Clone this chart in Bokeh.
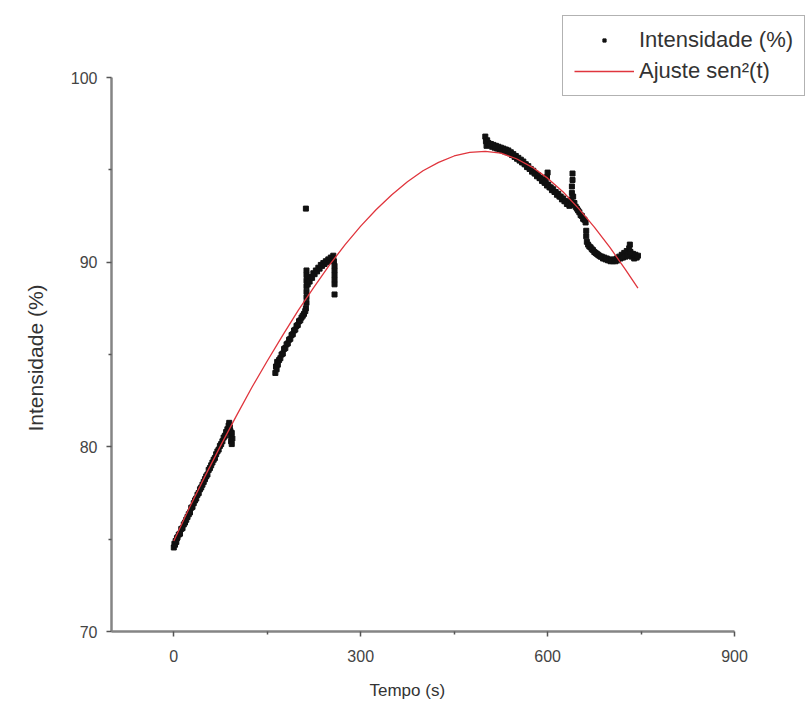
from bokeh.plotting import figure
from bokeh.models import Range1d, FixedTicker, Legend, LegendItem, ColumnDataSource, Title
from bokeh.embed import file_html
from bokeh.resources import INLINE

# ---- data ----
seg1_t = [0, 1, 2, 3, 4, 5, 6, 8, 10, 12, 14, 16, 18, 20, 22, 24, 26, 28, 30, 32, 34, 36, 38, 40,
          42, 44, 46, 48, 50, 52, 54, 56, 58, 60, 62, 64, 66, 68, 70, 72, 74, 76, 78, 80, 82, 84,
          86, 88, 89, 90, 91, 92, 92, 93, 93, 94]
seg1_i = [74.55, 74.75, 74.70, 74.90, 74.85, 75.05, 75.10, 75.25, 75.30, 75.55, 75.60, 75.80, 75.90,
          76.05, 76.20, 76.35, 76.45, 76.70, 76.75, 76.95, 77.10, 77.20, 77.40, 77.50, 77.70, 77.80,
          77.95, 78.10, 78.25, 78.40, 78.50, 78.75, 78.85, 79.00, 79.15, 79.30, 79.40, 79.60, 79.75,
          79.85, 80.05, 80.15, 80.30, 80.50, 80.60, 80.80, 80.95, 81.15, 81.30, 81.05, 80.85, 80.60,
          80.30, 80.15, 80.75, 80.45]

seg2_t = [163, 164, 165, 166, 167, 169, 171, 173, 175, 177, 179, 181, 183, 185, 187, 189, 191, 193,
          195, 197, 199, 201, 203, 205, 207, 209, 211, 212, 213, 213, 213, 213, 213, 213, 213, 212,
          215, 216, 218, 220, 222, 224, 226, 228, 230, 232, 234, 236, 238, 240, 242, 244, 246, 248,
          250, 252, 254, 256, 257, 258, 258, 258, 258, 258, 258]
seg2_i = [84.00, 84.35, 84.20, 84.60, 84.45, 84.70, 84.80, 85.00, 85.05, 85.30, 85.35, 85.55, 85.60,
          85.80, 85.85, 86.05, 86.10, 86.30, 86.35, 86.55, 86.60, 86.80, 86.85, 87.00, 87.10, 87.20,
          87.35, 87.50, 87.80, 88.10, 88.40, 88.70, 89.00, 89.30, 89.55, 92.90,
          88.80, 89.05, 88.95, 89.20, 89.15, 89.40, 89.35, 89.55, 89.50, 89.70, 89.65, 89.85, 89.80,
          89.95, 89.90, 90.05, 90.00, 90.15, 90.10, 90.25, 90.20, 90.35, 90.05, 89.80, 89.55, 89.30,
          89.05, 88.80, 88.25]

seg3_t = [500, 501, 502, 503, 505, 507, 509, 511, 513, 515, 517, 519, 521, 523, 525, 527, 529, 531,
          533, 535, 537, 539, 541, 543, 545, 547, 549, 551, 553, 555, 557, 559, 561, 563, 565, 567,
          569, 571, 573, 575, 577, 579, 581, 583, 585, 587, 589, 591, 593, 595, 597, 599, 599, 600,
          601, 603, 605, 607, 609, 611, 613, 615, 617, 619, 621, 623, 625, 627, 629, 631, 633, 635,
          637, 638, 639, 639, 640, 640, 641, 643, 645, 647, 649, 651, 653, 655, 657, 659, 661, 662,
          662, 663, 665, 667, 669, 671, 673, 675, 677, 679, 681, 683, 685, 687, 689, 691, 693, 695,
          697, 699, 701, 703, 705, 707, 709, 711, 713, 715, 717, 719, 721, 723, 725, 727, 729, 731,
          732, 733, 735, 737, 739, 741, 743, 745]
seg3_i = [96.80, 96.55, 96.30, 96.60, 96.45, 96.35, 96.40, 96.25, 96.35, 96.20, 96.30, 96.15, 96.25,
          96.10, 96.20, 96.05, 96.15, 96.00, 96.10, 95.95, 96.05, 95.90, 95.95, 95.80, 95.85, 95.70,
          95.75, 95.60, 95.65, 95.50, 95.55, 95.40, 95.45, 95.30, 95.30, 95.15, 95.20, 95.05, 95.05,
          94.90, 94.95, 94.80, 94.80, 94.65, 94.70, 94.55, 94.55, 94.40, 94.45, 94.30, 94.30, 94.15,
          94.60, 94.85, 94.20, 94.05, 94.05, 93.90, 93.95, 93.80, 93.80, 93.65, 93.70, 93.55, 93.55,
          93.40, 93.45, 93.30, 93.30, 93.15, 93.20, 93.05, 93.10, 93.40, 93.75, 94.10, 94.45, 94.80,
          93.55, 93.20, 93.00, 92.90, 92.80, 92.70, 92.55, 92.50, 92.35, 92.30, 92.15, 91.70, 91.40,
          91.10, 90.95, 90.85, 90.80, 90.70, 90.65, 90.55, 90.50, 90.45, 90.40, 90.35, 90.30, 90.30,
          90.20, 90.25, 90.15, 90.20, 90.10, 90.15, 90.05, 90.10, 90.05, 90.15, 90.05, 90.20, 90.10,
          90.30, 90.20, 90.40, 90.25, 90.50, 90.30, 90.60, 90.35, 90.75, 90.95, 90.55, 90.30, 90.45,
          90.20, 90.40, 90.25, 90.35]

fit_t = [0, 25, 50, 75, 100, 125, 150, 175, 200, 225, 250, 275, 300, 325, 350, 375, 400, 425, 450,
         475, 500, 525, 550, 575, 600, 625, 650, 675, 700, 725, 745]
fit_i = [74.9, 76.7, 78.4, 80.05, 81.65, 83.2, 84.65, 86.05, 87.4, 88.65, 89.85, 90.95, 91.95, 92.85,
         93.65, 94.35, 94.95, 95.4, 95.75, 95.95, 96.0, 95.9, 95.6, 95.15, 94.55, 93.8, 92.9, 91.9,
         90.8, 89.6, 88.6]

x_ticks = [0, 300, 600, 900]
x_minor = [150, 450, 750]
y_ticks = [70, 80, 90, 100]
y_minor = [75, 85, 95]

series_names = ["Intensidade (%)", "Ajuste sen²(t)"]
x_title = "Tempo (s)"
y_title = "Intensidade (%)"

FONT = "Liberation Sans"

# frame covers x 111..807 and y 0..631 px; axes are bounded to the real data window
X0, X1 = -100, 900
Y0, Y1 = 70, 100
px_per_x = 623.0 / (X1 - X0)
px_per_y = 554.0 / (Y1 - Y0)
x_end = X1 + 73 / px_per_x
y_end = Y1 + 77 / px_per_y

p = figure(width=807, height=715, output_backend="svg", toolbar_location=None,
           x_range=Range1d(X0, x_end), y_range=Range1d(Y0, y_end),
           min_border_left=111, min_border_right=0, min_border_top=0, min_border_bottom=84)
p.outline_line_color = None
p.grid.visible = False
p.background_fill_color = "white"

src = ColumnDataSource(dict(t=seg1_t + seg2_t + seg3_t, i=seg1_i + seg2_i + seg3_i))
sc = p.scatter("t", "i", source=src, marker="square", size=5, color="#111111")
ln = p.line(fit_t, fit_i, line_color="#e0353d", line_width=1.3)

p.xaxis.ticker = FixedTicker(ticks=x_ticks, minor_ticks=x_minor)
p.yaxis.ticker = FixedTicker(ticks=y_ticks, minor_ticks=y_minor)
p.xaxis.bounds = (X0, X1)
p.yaxis.bounds = (Y0, Y1)

for ax in (p.xaxis[0], p.yaxis[0]):
    ax.axis_line_color = "#858585"
    ax.axis_line_width = 2.5
    ax.major_tick_line_color = "#555555"
    ax.major_tick_line_width = 1.5
    ax.major_tick_out = 5
    ax.major_tick_in = 0
    ax.minor_tick_line_color = "#555555"
    ax.minor_tick_line_width = 1.5
    ax.minor_tick_out = 3
    ax.minor_tick_in = 0
    ax.major_label_text_font = FONT
    ax.major_label_text_font_size = "16px"
    ax.major_label_text_color = "#444444"

p.xaxis.major_label_standoff = 13
p.yaxis.major_label_standoff = 9

# axis titles placed as side titles so they are centred on the bounded axes
x_lab = Title(text=x_title, align="left", offset=258, standoff=29,
              text_font=FONT, text_font_size="17px", text_font_style="normal", text_color="#333333")
p.add_layout(x_lab, "below")
y_lab = Title(text=y_title, align="left", offset=200, standoff=41,
              text_font=FONT, text_font_size="21px", text_font_style="normal", text_color="#333333")
p.add_layout(y_lab, "left")

legend = Legend(items=[LegendItem(label=series_names[0], renderers=[sc]),
                       LegendItem(label=series_names[1], renderers=[ln])],
                location=(451, 535), orientation="vertical",
                glyph_width=60, glyph_height=8, label_height=20, label_standoff=5,
                spacing=5, padding=11, margin=0,
                border_line_color="#666666", border_line_width=1.5,
                background_fill_color="white", background_fill_alpha=1.0,
                label_text_font=FONT, label_text_font_size="22px", label_text_color="#333333")
p.add_layout(legend, "center")

open("out.html", "w").write(file_html(p, INLINE))
